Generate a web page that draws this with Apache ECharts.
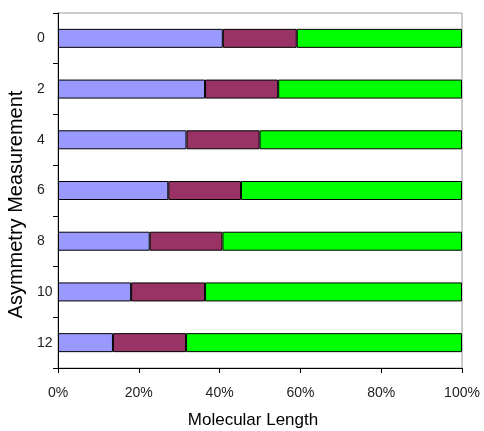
<!DOCTYPE html>
<html>
<head>
<meta charset="utf-8">
<script src="https://cdn.jsdelivr.net/npm/echarts@6/dist/echarts.min.js"></script>
<style>
html,body{margin:0;padding:0;background:#fff;}
#chart{width:484px;height:431px;}
</style>
</head>
<body>
<div id="chart"></div>
<script>
const categories = ['0', '2', '4', '6', '8', '10', '12'];
const seriesPurple = [40.8, 36.4, 31.8, 27.3, 22.7, 18.1, 13.6];
const seriesMaroon = [18.3, 18.1, 18.1, 18.0, 18.0, 18.3, 18.1];
const seriesGreen  = [40.9, 45.5, 50.1, 54.7, 59.3, 63.6, 68.3];
const xTicks = [0, 20, 40, 60, 80, 100];

const chart = echarts.init(document.getElementById('chart'), null, {renderer: 'canvas'});
const fontFam = 'Liberation Sans, Arial, sans-serif';
const barStyle = (c) => ({color: c, borderColor: '#000', borderWidth: 1});
chart.setOption({
  animation: false,
  backgroundColor: '#ffffff',
  grid: {left: 58, right: 22, top: 13, bottom: 63, show: true, borderColor: '#999999', borderWidth: 1, backgroundColor: '#ffffff', containLabel: false, outerBoundsMode: 'none'},
  xAxis: {
    type: 'value', min: 0, max: 100, interval: 20,
    name: 'Molecular Length', nameLocation: 'middle', nameGap: 44,
    nameTextStyle: {fontFamily: fontFam, fontSize: 17, color: '#000', padding: [0, 14, 0, 0]},
    axisLine: {show: true, lineStyle: {color: '#000', width: 1}},
    axisTick: {show: true, length: 5, lineStyle: {color: '#000'}},
    splitLine: {show: false},
    axisLabel: {formatter: function(v){ return xTicks.indexOf(v) >= 0 ? v + '%' : ''; }, fontFamily: fontFam, fontSize: 14, color: '#222', margin: 18, hideOverlap: false}
  },
  yAxis: {
    type: 'category', data: categories, inverse: true,
    name: 'Asymmetry Measurement', nameLocation: 'middle', nameGap: 28, nameRotate: 90,
    nameTextStyle: {fontFamily: fontFam, fontSize: 20, color: '#000', padding: [0, 28, 0, 0]},
    axisLine: {show: true, lineStyle: {color: '#000', width: 1}},
    axisTick: {show: true, length: 5, alignWithLabel: false, lineStyle: {color: '#000'}},
    axisLabel: {fontFamily: fontFam, fontSize: 14, color: '#222', margin: 21, align: 'left'},
    splitLine: {show: false}
  },
  series: [
    {type: 'bar', stack: 's', data: seriesPurple, barWidth: 19, itemStyle: barStyle('#9999FF')},
    {type: 'bar', stack: 's', data: seriesMaroon, barWidth: 19, itemStyle: barStyle('#993366')},
    {type: 'bar', stack: 's', data: seriesGreen, barWidth: 19, itemStyle: barStyle('#00FF00')}
  ]
});
</script>
</body>
</html>
